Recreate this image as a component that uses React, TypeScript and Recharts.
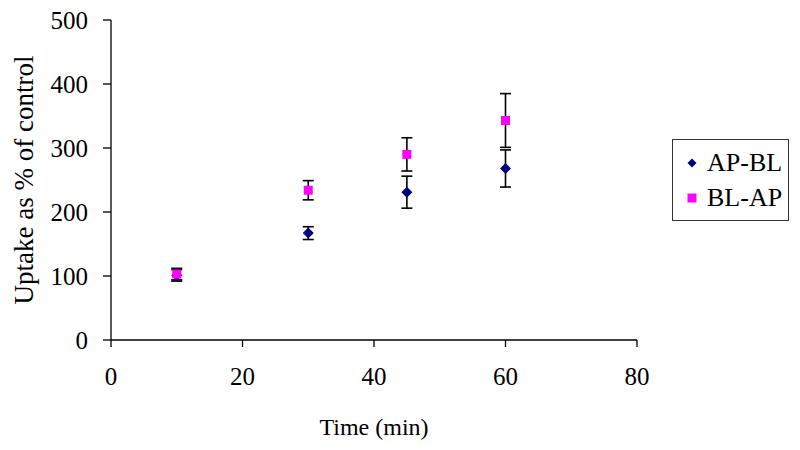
import {
  ScatterChart,
  Scatter,
  XAxis,
  YAxis,
  ErrorBar,
  Label,
} from "recharts";

const times = [10, 30, 45, 60];
const apBl = [101, 167, 231, 268];
const apBlErr = [9, 10, 25, 29];
const blAp = [103, 234, 290, 343];
const blApErr = [9, 15, 26, 42];

const xTicks = [0, 20, 40, 60, 80];
const yTicks = [0, 100, 200, 300, 400, 500];

const FONT = "'Liberation Serif', 'Times New Roman', serif";

const apBlData = times.map((t, i) => ({ t, v: apBl[i], err: apBlErr[i] }));
const blApData = times.map((t, i) => ({ t, v: blAp[i], err: blApErr[i] }));

const Diamond = (props: any) => {
  const { cx, cy } = props;
  const r = 5.5;
  return (
    <path
      d={`M${cx},${cy - r}L${cx + r},${cy}L${cx},${cy + r}L${cx - r},${cy}Z`}
      fill="#000080"
    />
  );
};

const Square = (props: any) => {
  const { cx, cy } = props;
  const r = 4.5;
  return <rect x={cx - r} y={cy - r} width={2 * r} height={2 * r} fill="#ff00ff" />;
};

const tickStyle = { fill: "#000", fontSize: 25, fontFamily: FONT };

export default function App() {
  return (
    <div style={{ position: "absolute", left: 0, top: 0, width: 800, height: 450, background: "#fff", fontFamily: FONT }}>
      <ScatterChart
        width={800}
        height={450}
        margin={{ top: 20, right: 163, bottom: 0, left: 41 }}
        style={{ fontFamily: FONT }}
      >
        <XAxis
          type="number"
          dataKey="t"
          domain={[0, 80]}
          ticks={xTicks}
          height={110}
          stroke="#000"
          strokeWidth={1.3}
          tickSize={7}
          tickMargin={20}
          tick={tickStyle}
        >
          <Label
            value="Time (min)"
            position="insideTop"
            offset={78}
            style={{ fill: "#000", fontSize: 24, fontFamily: FONT }}
          />
        </XAxis>
        <YAxis
          type="number"
          dataKey="v"
          domain={[0, 500]}
          ticks={yTicks}
          width={70}
          stroke="#000"
          strokeWidth={1.3}
          tickSize={8}
          tickMargin={15}
          tick={tickStyle}
        >
          <Label
            value="Uptake as % of control"
            angle={-90}
            position="insideLeft"
            offset={-18}
            style={{ textAnchor: "middle", fill: "#000", fontSize: 27, fontFamily: FONT }}
          />
        </YAxis>
        <Scatter
          name="AP-BL"
          data={apBlData}
          fill="#000080"
          shape={Diamond}
          isAnimationActive={false}
        >
          <ErrorBar dataKey="err" direction="y" width={5.5} stroke="#000" strokeWidth={1.6} />
        </Scatter>
        <Scatter
          name="BL-AP"
          data={blApData}
          fill="#ff00ff"
          shape={Square}
          isAnimationActive={false}
        >
          <ErrorBar dataKey="err" direction="y" width={5.5} stroke="#000" strokeWidth={1.6} />
        </Scatter>
      </ScatterChart>
      <div
        style={{
          position: "absolute",
          left: 672,
          top: 139,
          width: 117,
          height: 82,
          border: "1.5px solid #333",
          boxSizing: "border-box",
          fontSize: 26,
          color: "#000",
        }}
      >
        <div style={{ position: "absolute", left: 13, top: 8, height: 30, display: "flex", alignItems: "center" }}>
          <svg width={12} height={12} style={{ marginRight: 9 }}>
            <path d="M6,1.5L10.5,6L6,10.5L1.5,6Z" fill="#000080" />
          </svg>
          AP-BL
        </div>
        <div style={{ position: "absolute", left: 13, top: 43, height: 30, display: "flex", alignItems: "center" }}>
          <svg width={12} height={12} style={{ marginRight: 9 }}>
            <rect x={1.5} y={1.5} width={9} height={9} fill="#ff00ff" />
          </svg>
          BL-AP
        </div>
      </div>
    </div>
  );
}
